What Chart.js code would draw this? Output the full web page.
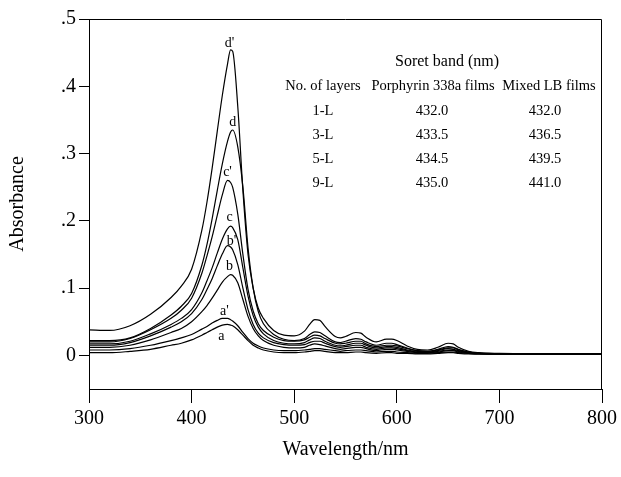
<!DOCTYPE html>
<html>
<head>
<meta charset="utf-8">
<script src="https://cdn.jsdelivr.net/npm/chart.js@4"></script>
<style>
  html, body { margin: 0; padding: 0; background: #fff; }
  #chart { display: block; }
</style>
</head>
<body>
<canvas id="chart" width="621" height="477"></canvas>
<script>
// wavelength grid (nm)
const wavelengths = [300, 320, 340, 360, 380, 390, 400, 410, 415, 420, 425, 430, 435, 438, 440, 445, 450, 455, 460, 465,
  470, 480, 490, 500, 510, 515, 520, 525, 530, 540, 545, 550, 560, 565, 570, 580, 590, 595, 600, 610,
  620, 630, 640, 650, 655, 660, 670, 680, 700, 750, 800];

// absorbance
const curveA = [.004, .004, .006, .009, .015, .018, .023, .03, .034, .038, .042, .045, .046, .045, .044, .038, .03, .022, .015, .011,
  .008, .005, .004, .004, .005, .006, .007, .007, .006, .004, .004, .004, .005, .005, .004, .003, .004, .004, .003, .003,
  .002, .002, .003, .004, .004, .003, .002, .002, .002, .002, .002];
const curveA2 = [.008, .008, .01, .015, .022, .026, .031, .039, .043, .048, .052, .055, .055, .053, .051, .044, .034, .025, .018, .014,
  .011, .008, .007, .007, .008, .009, .01, .01, .009, .007, .006, .007, .008, .008, .007, .005, .006, .006, .005, .004,
  .003, .003, .004, .005, .005, .004, .003, .002, .002, .002, .002];
const curveB = [.012, .012, .015, .023, .034, .04, .05, .065, .074, .085, .097, .109, .117, .12, .119, .108, .083, .058, .04, .029,
  .022, .015, .012, .011, .012, .015, .017, .016, .014, .01, .009, .01, .012, .012, .01, .007, .009, .009, .008, .006,
  .004, .004, .005, .007, .007, .005, .003, .002, .002, .002, .002];
const curveB2 = [.015, .015, .019, .029, .042, .05, .062, .083, .098, .114, .133, .151, .163, .161, .157, .135, .1, .068, .046, .033,
  .026, .019, .016, .015, .016, .019, .021, .021, .018, .013, .012, .013, .015, .015, .012, .009, .011, .011, .01, .007,
  .005, .004, .006, .008, .008, .006, .004, .003, .002, .002, .002];
const curveC = [.017, .017, .021, .032, .046, .055, .068, .093, .111, .13, .152, .173, .188, .192, .19, .172, .13, .088, .059, .042,
  .032, .022, .018, .017, .019, .023, .026, .025, .021, .015, .014, .015, .018, .018, .015, .011, .013, .013, .012, .008,
  .006, .005, .007, .01, .009, .007, .004, .003, .002, .002, .002];
const curveC2 = [.02, .02, .025, .038, .055, .067, .085, .122, .148, .176, .208, .239, .26, .257, .25, .21, .15, .098, .066, .047,
  .037, .027, .022, .021, .023, .027, .03, .029, .025, .018, .017, .018, .021, .021, .017, .013, .015, .015, .014, .01,
  .007, .006, .008, .011, .011, .008, .005, .003, .002, .002, .002];
const curveD = [.022, .022, .026, .04, .06, .073, .092, .134, .165, .203, .245, .285, .318, .332, .335, .31, .25, .16, .1, .065,
  .047, .031, .024, .022, .025, .031, .035, .034, .029, .02, .019, .021, .025, .024, .02, .015, .018, .018, .016, .011,
  .007, .006, .009, .013, .012, .009, .005, .003, .002, .002, .002];
const curveD2 = [.038, .037, .044, .061, .086, .103, .128, .186, .228, .278, .333, .387, .433, .454, .452, .37, .245, .15, .1, .07,
  .055, .037, .03, .029, .036, .046, .053, .052, .043, .028, .026, .028, .034, .033, .027, .02, .024, .024, .022, .014,
  .009, .008, .012, .018, .017, .012, .006, .004, .003, .002, .002];

const curveNames = ["a", "a'", "b", "b'", "c", "c'", "d", "d'"];
const curves = [curveA, curveA2, curveB, curveB2, curveC, curveC2, curveD, curveD2];
// where each curve letter sits (nm, absorbance)
const labelNm = [429, 432, 437, 439, 437, 435, 440, 437];
const labelAbs = [0.028, 0.065, 0.132, 0.169, 0.205, 0.272, 0.347, 0.464];

const yTickValues = [0, 0.1, 0.2, 0.3, 0.4, 0.5];
const yTickLabels = ['0', '.1', '.2', '.3', '.4', '.5'];

// inset table
const tableTitle = 'Soret band (nm)';
const tableHeaders = ['No. of layers', 'Porphyrin 338a films', 'Mixed LB films'];
const tableLayers = ['1-L', '3-L', '5-L', '9-L'];
const tablePorphyrin = [432.0, 433.5, 434.5, 435.0];
const tableMixed = [432.0, 436.5, 439.5, 441.0];

const serif = '"Liberation Serif", "Times New Roman", serif';

const overlay = {
  id: 'overlay',
  afterDraw(chart) {
    const { ctx, chartArea: ca, scales: { x, y } } = chart;
    ctx.save();
    // top and right frame
    ctx.strokeStyle = '#000';
    ctx.lineWidth = 1;
    ctx.beginPath();
    ctx.moveTo(ca.left, ca.top + 0.5);
    ctx.lineTo(ca.right - 0.5, ca.top + 0.5);
    ctx.lineTo(ca.right - 0.5, ca.bottom);
    ctx.stroke();

    ctx.fillStyle = '#000';
    ctx.textAlign = 'center';
    ctx.textBaseline = 'middle';

    // curve letters
    ctx.font = '14px ' + serif;
    curveNames.forEach((n, i) => {
      ctx.fillText(n, x.getPixelForValue(labelNm[i]), y.getPixelForValue(labelAbs[i]));
    });

    // table
    ctx.font = '16px ' + serif;
    ctx.fillText(tableTitle, 447, 62);
    ctx.font = '14.5px ' + serif;
    const cols = [323, 433, 549];
    tableHeaders.forEach((h, i) => ctx.fillText(h, cols[i], 86));
    const valCols = [323, 432, 545];
    tableLayers.forEach((l, i) => {
      const ry = 111 + i * 24;
      ctx.fillText(l, valCols[0], ry);
      ctx.fillText(tablePorphyrin[i].toFixed(1), valCols[1], ry);
      ctx.fillText(tableMixed[i].toFixed(1), valCols[2], ry);
    });
    ctx.restore();
  }
};

const ctx = document.getElementById('chart').getContext('2d');
new Chart(ctx, {
  type: 'line',
  data: {
    datasets: curves.map((c, i) => ({
      label: curveNames[i],
      data: wavelengths.map((w, j) => ({ x: w, y: c[j] })),
      borderColor: '#000',
      borderWidth: 1.2,
      pointRadius: 0,
      fill: false,
      cubicInterpolationMode: 'monotone'
    }))
  },
  options: {
    responsive: false,
    animation: false,
    devicePixelRatio: 1,
    layout: { padding: { left: 0, right: 17, top: 19, bottom: 0 } },
    plugins: {
      legend: { display: false },
      tooltip: { enabled: false }
    },
    scales: {
      x: {
        type: 'linear',
        min: 300,
        max: 800,
        ticks: { stepSize: 100, color: '#000', font: { family: serif, size: 20 }, padding: 4, maxRotation: 0 },
        grid: { drawOnChartArea: false, tickLength: 14, color: '#000' },
        border: { color: '#000', width: 1 },
        title: { display: true, text: 'Wavelength/nm', color: '#000', font: { family: serif, size: 20 }, padding: { top: 0, bottom: 15 } },
        afterFit(scale) { scale.height = 88; }
      },
      y: {
        min: -0.05,
        max: 0.5,
        afterBuildTicks(scale) { scale.ticks = yTickValues.map(v => ({ value: v })); },
        ticks: {
          color: '#000',
          font: { family: serif, size: 20 },
          padding: 3,
          callback: (v) => yTickLabels[yTickValues.findIndex(t => Math.abs(t - v) < 1e-9)]
        },
        grid: { drawOnChartArea: false, tickLength: 10, color: '#000' },
        border: { color: '#000', width: 1 },
        title: { display: true, text: 'Absorbance', color: '#000', font: { family: serif, size: 20 }, padding: { top: 6, bottom: 0 } },
        afterFit(scale) { scale.width = 89; }
      }
    }
  },
  plugins: [overlay]
});
</script>
</body>
</html>
